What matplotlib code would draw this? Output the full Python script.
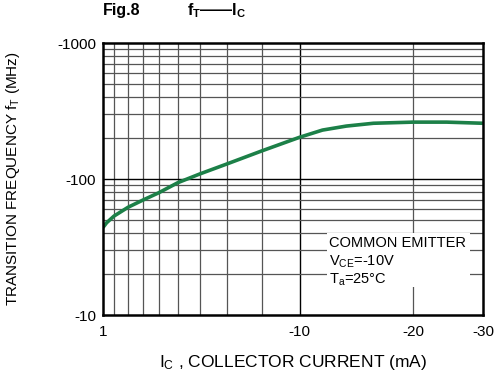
import numpy as np
import matplotlib
matplotlib.use("Agg")
import matplotlib.pyplot as plt
from matplotlib.patches import Rectangle

plt.rcParams['font.family'] = ['Liberation Sans', 'DejaVu Sans']
plt.rcParams['mathtext.fontset'] = 'custom'
plt.rcParams['mathtext.rm'] = 'Liberation Sans'
plt.rcParams['mathtext.it'] = 'Liberation Sans'
plt.rcParams['mathtext.bf'] = 'Liberation Sans:bold'

# Data (magnitudes; labels show negative signs)
ic_ma = [1, 1.33, 2, 3, 4, 5, 6, 7, 8, 9, 10, 12, 14.1, 16.5, 20, 24.8, 30]
ft_mhz = [44, 47.7, 53.4, 62, 70, 79.3, 94, 109, 129, 161, 203, 229, 245, 257, 262, 262, 257]

# x-axis grid of the original sheet (non-uniform drawing)
x_grid_vals = [1, 2, 3, 4, 5, 6, 7, 8, 9, 10, 20, 30]
x_grid_frac = [0.0, 0.029, 0.066, 0.105, 0.147, 0.197, 0.255, 0.326, 0.418, 0.518, 0.816, 1.0]
x_tick_vals = [1, 10, 20, 30]
x_tick_labels = ['1', '-10', '-20', '-30']
y_tick_vals = [10, 100, 1000]
y_tick_labels = ['-10', '-100', '-1000']

def fwd(x):
    return np.interp(x, x_grid_vals, x_grid_frac)

def inv(f):
    return np.interp(f, x_grid_frac, x_grid_vals)

fig = plt.figure(figsize=(5.01, 3.76), dpi=100)
ax = fig.add_axes([0.2056, 0.1622, 0.7584, 0.7234])
ax.set_xscale('function', functions=(fwd, inv))
ax.set_yscale('log')
ax.set_xlim(1, 30)
ax.set_ylim(10, 1000)

# grid lines
for v in x_grid_vals[1:-1]:
    ax.axvline(v, color='black' if v == 10 else '#555555', lw=1.0 if v == 10 else 0.9, zorder=0.5)
for dec in [10, 100]:
    for k in range(2, 10):
        ax.axhline(dec * k, color='#555555', lw=0.9, zorder=0.5)
ax.axhline(100, color='black', lw=1.0, zorder=0.5)

# white legend box
ax.add_patch(Rectangle((0.589, 0.103), 0.377, 0.198, transform=ax.transAxes,
                       facecolor='white', edgecolor='none', zorder=1))
ax.text(0.596, 0.265, 'COMMON EMITTER', transform=ax.transAxes, fontsize=10.5, va='center', zorder=3)
ax.text(0.596, 0.195, r'V$_{\mathrm{CE}}$=-10V', transform=ax.transAxes, fontsize=10.5, va='center', zorder=3)
ax.text(0.596, 0.13, r'T$_{\mathrm{a}}$=25°C', transform=ax.transAxes, fontsize=10.5, va='center', zorder=3)

ax.plot(ic_ma, ft_mhz, color='#1c8048', lw=2.6, solid_capstyle='butt', solid_joinstyle='round', zorder=4)

ax.set_xticks(x_tick_vals)
ax.set_xticklabels(x_tick_labels)
ax.set_xticks([], minor=True)
ax.set_yticks(y_tick_vals)
ax.set_yticklabels(y_tick_labels)
ax.set_yticks([], minor=True)
ax.tick_params(axis='both', length=0, labelsize=11, colors='black')
ax.tick_params(axis='x', pad=7)
ax.tick_params(axis='y', pad=5)
for s in ax.spines.values():
    s.set_linewidth(1.8)
    s.set_color('black')
    s.set_zorder(5)

ax.set_xlabel(r'I$_{\mathrm{C}}$ , COLLECTOR CURRENT (mA)', fontsize=12.5, labelpad=10)
fig.text(0.026, 0.1622 + 0.7234 / 2, r'TRANSITION FREQUENCY f$_{\mathrm{T}}$ (MHz)',
         fontsize=11, rotation=90, ha='center', va='center')

fig.text(0.206, 0.972, 'Fig.8', fontsize=11.5, fontweight='bold', va='center', ha='left')
fig.text(0.373, 0.972, r'f$_{\mathbf{T}}$——I$_{\mathbf{C}}$', fontsize=11.5, fontweight='bold', va='center', ha='left')

fig.savefig('out.png', dpi=100)
